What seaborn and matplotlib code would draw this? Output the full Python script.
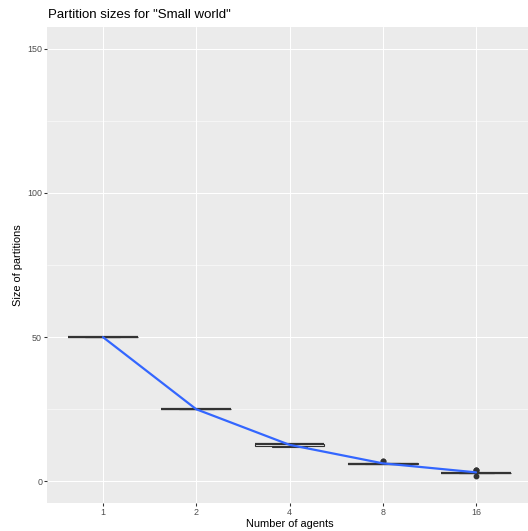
import matplotlib
matplotlib.use("Agg")
import matplotlib.pyplot as plt
import seaborn as sns
import pandas as pd
import numpy as np

# ---- data ----
agents = ["1", "2", "4", "8", "16"]
sizes_1 = [50]
sizes_2 = [25, 25]
sizes_4 = [12, 12, 13, 13, 13, 13]
sizes_8 = [6, 6, 6, 6, 6, 6, 7, 7]
sizes_16 = [2] + [3] * 12 + [4, 4, 4]

title = 'Partition sizes for "Small world"'
xlabel = "Number of agents"
ylabel = "Size of partitions"
yticks = [0, 50, 100, 150]
yminor = [25, 75, 125]

groups = [sizes_1, sizes_2, sizes_4, sizes_8, sizes_16]
df = pd.DataFrame({
    "agents": [a for a, g in zip(agents, groups) for _ in g],
    "size": [v for g in groups for v in g],
})

sns.set_theme(style="darkgrid")
plt.rcParams["font.family"] = ["Liberation Sans", "DejaVu Sans"]

fig = plt.figure(figsize=(5.28, 5.31), dpi=100)
W, H = 528, 531
left, right, top, bottom = 47, 532, 27, 503
ax = fig.add_axes([left / W, 1 - bottom / H, (right - left) / W, (bottom - top) / H])
ax.set_facecolor("#EBEBEB")

sns.boxplot(data=df, x="agents", y="size", order=agents, ax=ax, width=0.75,
            color="white", linecolor="#333333", linewidth=0.8, whis=1.5,
            medianprops=dict(linewidth=1.6, color="#333333"),
            flierprops=dict(marker="o", markersize=3.2, markerfacecolor="#333333",
                            markeredgecolor="#333333"),
            zorder=3)
sns.pointplot(data=df, x="agents", y="size", order=agents, ax=ax,
              estimator="mean", errorbar=None, color="#3366FF",
              marker="", linestyle="-", linewidth=1.6, zorder=4)

ax.set_xlim(-0.6, len(agents) - 0.4)
ax.set_ylim(-7.5, 157.5)
ax.set_yticks(yticks)
ax.set_yticks(yminor, minor=True)
ax.grid(True, which="major", color="white", linewidth=0.77)
ax.grid(True, which="minor", axis="y", color="white", linewidth=0.38)
ax.set_axisbelow(True)
for s in ax.spines.values():
    s.set_visible(False)

ax.tick_params(axis="both", which="major", length=2.0, width=0.77, color="#333333",
               labelsize=6.4, labelcolor="#4D4D4D", pad=1.5, direction="out",
               bottom=True, left=True)
ax.tick_params(axis="y", which="minor", length=0, left=False)

ax.set_xlabel(xlabel, fontsize=7.9, color="black", labelpad=1.5)
ax.set_ylabel(ylabel, fontsize=7.9, color="black", labelpad=3)
fig.text(48 / W, 1 - 15 / H, title, fontsize=9.5, color="black",
         ha="left", va="center")

fig.savefig("out.png", dpi=100)
